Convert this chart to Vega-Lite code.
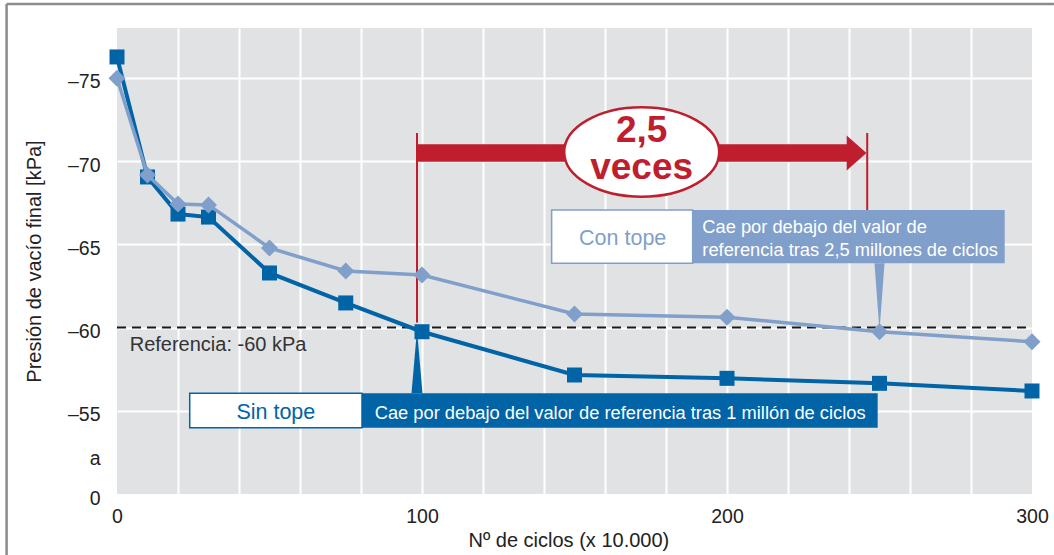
{
  "$schema": "https://vega.github.io/schema/vega-lite/v6.json",
  "width": 915,
  "height": 466,
  "autosize": {"type": "none"},
  "padding": {"left": 117, "top": 28, "right": 22, "bottom": 61},
  "background": "white",
  "config": {
    "view": {"fill": "#e1e2e4", "stroke": null},
    "font": "Liberation Sans",
    "axis": {
      "domain": false,
      "ticks": false,
      "gridColor": "white",
      "gridWidth": 2,
      "labelFont": "Liberation Sans",
      "labelFontSize": 19.5,
      "labelColor": "#222222",
      "titleFont": "Liberation Sans",
      "titleFontSize": 20,
      "titleFontWeight": "normal",
      "titleColor": "#222222"
    }
  },
  "data": {
    "values": [
      {"series": "Sin tope", "x": 0, "y": -76.26},
      {"series": "Sin tope", "x": 10, "y": -69.05},
      {"series": "Sin tope", "x": 20, "y": -66.82},
      {"series": "Sin tope", "x": 30, "y": -66.64},
      {"series": "Sin tope", "x": 50, "y": -63.28},
      {"series": "Sin tope", "x": 75, "y": -61.48},
      {"series": "Sin tope", "x": 100, "y": -59.75},
      {"series": "Sin tope", "x": 150, "y": -57.15},
      {"series": "Sin tope", "x": 200, "y": -56.95},
      {"series": "Sin tope", "x": 250, "y": -56.65},
      {"series": "Sin tope", "x": 300, "y": -56.19},
      {"series": "Con tope", "x": 0, "y": -74.98},
      {"series": "Con tope", "x": 10, "y": -69.17},
      {"series": "Con tope", "x": 20, "y": -67.43},
      {"series": "Con tope", "x": 30, "y": -67.37},
      {"series": "Con tope", "x": 50, "y": -64.78},
      {"series": "Con tope", "x": 75, "y": -63.4},
      {"series": "Con tope", "x": 100, "y": -63.16},
      {"series": "Con tope", "x": 150, "y": -60.82},
      {"series": "Con tope", "x": 200, "y": -60.62},
      {"series": "Con tope", "x": 250, "y": -59.75},
      {"series": "Con tope", "x": 300, "y": -59.15}
    ]
  },
  "encoding": {
    "x": {
      "field": "x",
      "type": "quantitative",
      "scale": {"domain": [0, 300], "nice": false, "zero": false},
      "axis": {
        "title": "Nº de ciclos (x 10.000)",
        "values": [0, 20, 40, 60, 80, 100, 120, 140, 160, 180, 200, 220, 240, 260, 280, 300],
        "labelExpr": "datum.value % 100 === 0 ? datum.label : ''",
        "labelFlush": false,
        "labelOverlap": false,
        "gridOpacity": {"condition": {"test": "datum.value === 0 || datum.value === 300", "value": 0}, "value": 1},
        "labelPadding": 13,
        "titleX": 351,
        "titleAlign": "left",
        "titleAnchor": "start",
        "titleY": 52,
        "titleBaseline": "alphabetic"
      }
    },
    "y": {
      "field": "y",
      "type": "quantitative",
      "scale": {"domain": [-78, -50], "reverse": true, "nice": false, "zero": false},
      "axis": {
        "title": "Presión de vacío final [kPa]",
        "values": [-75, -70, -65, -60, -55, -52.4, -50],
        "labelExpr": "datum.value === -50 ? '0' : (datum.value > -53 ? 'a' : '–' + abs(datum.value))",
        "labelFlush": false,
        "labelOverlap": false,
        "gridOpacity": {"condition": {"test": "datum.value > -54", "value": 0}, "value": 1},
        "labelPadding": 17,
        "labelOffset": 4,
        "titleX": -77,
        "titleBaseline": "alphabetic"
      }
    }
  },
  "layer": [
    {
      "data": {"values": [{"x": -36.2, "x2": 307.2, "y": -79.44}]},
      "mark": {"type": "rule", "stroke": "#8c8c8c", "strokeWidth": 2.5},
      "encoding": {"x2": {"field": "x2"}}
    },
    {
      "data": {"values": [{"x": -36.2, "y": -79.44, "y2": -46.3}]},
      "mark": {"type": "rule", "stroke": "#8c8c8c", "strokeWidth": 2.5},
      "encoding": {"y2": {"field": "y2"}}
    },
    {
      "data": {"values": [{"x": 0, "x2": 300, "y": -60}]},
      "mark": {"type": "rule", "stroke": "#1a1a1a", "strokeWidth": 2, "strokeDash": [9, 6]},
      "encoding": {"x2": {"field": "x2"}}
    },
    {
      "data": {"values": [{"x": 4.16, "y": -58.61, "label": "Referencia: -60 kPa"}]},
      "mark": {"type": "text", "align": "left", "baseline": "alphabetic", "fontSize": 20, "color": "#333333"},
      "encoding": {"text": {"field": "label"}}
    },
    {
      "data": {"values": [{"x": 98.36, "y": -71.69, "y2": -60.3}, {"x": 245.97, "y": -71.69, "y2": -67.06}]},
      "mark": {"type": "rule", "stroke": "#be1e2d", "strokeWidth": 2},
      "encoding": {"y2": {"field": "y2"}}
    },
    {
      "data": {"values": [{"x": 98.36, "x2": 240, "y": -70.49}]},
      "mark": {"type": "rule", "stroke": "#be1e2d", "strokeWidth": 17.4, "strokeCap": "butt"},
      "encoding": {"x2": {"field": "x2"}}
    },
    {
      "data": {"values": [{"x": 242.48, "y": -70.49}]},
      "mark": {"type": "point", "shape": "M -0.563 -1 L 0.563 0 L -0.563 1 Z", "size": 1225, "fill": "#be1e2d", "stroke": null, "opacity": 1, "fillOpacity": 1}
    },
    {
      "data": {"values": [{"x": 172.03, "y": -70.55}]},
      "mark": {"type": "point", "shape": "M -1 0 A 1 0.577 0 1 1 1 0 A 1 0.577 0 1 1 -1 0 Z", "size": 24025, "fill": "white", "fillOpacity": 1, "stroke": "#be1e2d", "strokeWidth": 2.5, "opacity": 1}
    },
    {
      "data": {"values": [{"x": 172.0, "y": -71.15, "label": "2,5\nveces"}]},
      "mark": {"type": "text", "align": "center", "baseline": "alphabetic", "fontSize": 37, "lineHeight": 37, "lineBreak": "\n", "fontWeight": "bold", "color": "#be1e2d"},
      "encoding": {"text": {"field": "label"}}
    },
    {
      "data": {"values": [{"x": 142.5, "x2": 188.75, "y": -67.06, "y2": -63.86}]},
      "mark": {"type": "rect", "fill": "white", "stroke": "#819fcb", "strokeWidth": 1.5},
      "encoding": {"x2": {"field": "x2"}, "y2": {"field": "y2"}}
    },
    {
      "data": {"values": [{"x": 188.75, "x2": 291.05, "y": -67.06, "y2": -63.86}]},
      "mark": {"type": "rect", "fill": "#819fcb"},
      "encoding": {"x2": {"field": "x2"}, "y2": {"field": "y2"}}
    },
    {
      "data": {"values": [{"x": 23.84, "x2": 80.33, "y": -56.05, "y2": -53.98}]},
      "mark": {"type": "rect", "fill": "white", "stroke": "#0064a7", "strokeWidth": 1.5},
      "encoding": {"x2": {"field": "x2"}, "y2": {"field": "y2"}}
    },
    {
      "data": {"values": [{"x": 80.33, "x2": 249.4, "y": -56.05, "y2": -53.98}]},
      "mark": {"type": "rect", "fill": "#0064a7"},
      "encoding": {"x2": {"field": "x2"}, "y2": {"field": "y2"}}
    },
    {
      "data": {"values": [{"x": 250, "y": -61.83}]},
      "mark": {"type": "point", "shape": "M -0.148 -1 L 0 1 L 0.148 -1 Z", "size": 4583, "fill": "#819fcb", "fillOpacity": 1, "stroke": null, "opacity": 1}
    },
    {
      "data": {"values": [{"x": 98.36, "y": -57.95}]},
      "mark": {"type": "point", "shape": "M -0.174 1 L 0 -1 L 0.174 1 Z", "size": 4007, "fill": "#0064a7", "fillOpacity": 1, "stroke": null, "opacity": 1}
    },
    {
      "data": {"values": [{"x": 165.8, "y": -64.96, "label": "Con tope"}]},
      "mark": {"type": "text", "align": "center", "baseline": "alphabetic", "fontSize": 21.5, "color": "#819fcb"},
      "encoding": {"text": {"field": "label"}}
    },
    {
      "data": {"values": [{"x": 52.08, "y": -54.51, "label": "Sin tope"}]},
      "mark": {"type": "text", "align": "center", "baseline": "alphabetic", "fontSize": 21.5, "color": "#0064a7"},
      "encoding": {"text": {"field": "label"}}
    },
    {
      "data": {"values": [
        {"x": 191.9, "y": -65.66, "label": "Cae por debajo del valor de"},
        {"x": 191.9, "y": -64.3, "label": "referencia tras 2,5 millones de ciclos"},
        {"x": 84.5, "y": -54.51, "label": "Cae por debajo del valor de referencia tras 1 millón de ciclos"}
      ]},
      "mark": {"type": "text", "align": "left", "baseline": "alphabetic", "fontSize": 18.3, "color": "white"},
      "encoding": {"text": {"field": "label"}}
    },
    {
      "transform": [{"filter": "datum.series === 'Sin tope'"}],
      "mark": {"type": "line", "stroke": "#0064a7", "strokeWidth": 4}
    },
    {
      "transform": [{"filter": "datum.series === 'Sin tope'"}],
      "mark": {"type": "point", "shape": "square", "size": 225, "fill": "#0064a7", "fillOpacity": 1, "stroke": null, "opacity": 1}
    },
    {
      "transform": [{"filter": "datum.series === 'Con tope'"}],
      "mark": {"type": "line", "stroke": "#819fcb", "strokeWidth": 3.5}
    },
    {
      "transform": [{"filter": "datum.series === 'Con tope'"}],
      "mark": {"type": "point", "shape": "diamond", "size": 290, "fill": "#819fcb", "fillOpacity": 1, "stroke": null, "opacity": 1}
    }
  ]
}
